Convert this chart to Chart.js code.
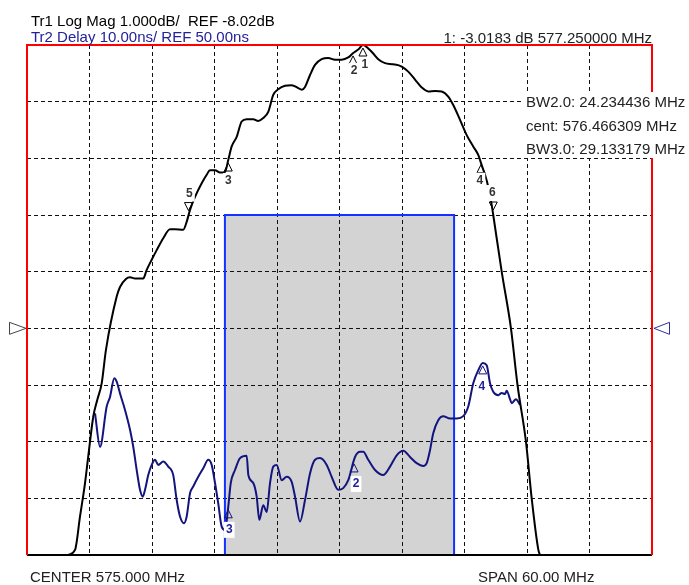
<!DOCTYPE html>
<html>
<head>
<meta charset="utf-8">
<title>Filter response</title>
<script src="https://cdn.jsdelivr.net/npm/chart.js@4.4.1/dist/chart.umd.min.js"></script>
<style>
  html, body { margin: 0; padding: 0; background: #fff; }
  canvas { display: block; }
</style>
</head>
<body>
<canvas id="vna" width="689" height="585"></canvas>
<script>
// Tr1: log magnitude (dB) vs frequency (MHz)
const magFreq = [548.94, 549.61, 550.09, 550.57, 550.88, 551.36, 551.75, 552.17, 552.58, 553.61,
    553.93, 554.50, 554.89, 555.37, 556.16, 556.49, 556.97, 557.45, 558.08, 558.73,
    559.21, 560.00, 560.33, 560.65, 561.13, 561.77, 562.25, 562.57, 563.05, 563.53,
    564.01, 564.32, 564.65, 565.13, 565.61, 566.09, 566.72, 567.20, 567.68, 568.16,
    568.64, 569.12, 569.77, 570.41, 571.04, 571.37, 571.69, 572.17, 572.65, 573.29,
    573.92, 574.57, 575.21, 575.84, 576.32, 576.80, 577.25, 577.76, 578.24, 578.72,
    579.37, 580.16, 580.97, 581.60, 582.25, 582.89, 583.52, 584.17, 584.81, 585.44,
    585.92, 586.57, 587.21, 587.84, 588.32, 588.65, 588.97, 589.28, 589.61, 589.76,
    590.57, 591.46, 592.09, 592.90, 593.45, 594.09, 594.25];
const magDb = [-12.02, -11.93, -11.34, -10.75, -10.28, -9.58, -9.28, -8.99, -8.40, -7.46,
    -7.29, -7.15, -7.12, -7.14, -7.14, -6.99, -6.81, -6.64, -6.43, -6.27,
    -6.27, -6.28, -6.14, -5.93, -5.70, -5.46, -5.31, -5.23, -5.23, -5.27,
    -5.26, -5.05, -4.81, -4.64, -4.37, -4.33, -4.33, -4.36, -4.31, -4.20,
    -3.90, -3.80, -3.74, -3.73, -3.78, -3.81, -3.76, -3.55, -3.37, -3.27,
    -3.25, -3.28, -3.28, -3.24, -3.16, -3.10, -3.02, -3.08, -3.17, -3.27,
    -3.34, -3.36, -3.40, -3.49, -3.63, -3.77, -3.84, -3.83, -3.84, -3.93,
    -4.08, -4.34, -4.61, -4.81, -4.96, -5.14, -5.31, -5.52, -5.84, -6.02,
    -7.02, -8.02, -9.02, -10.02, -11.02, -11.93, -12.02];

// Tr2: group delay (ns)
const delayFreq = [551.53, 552.01, 552.65, 552.97, 553.38, 553.61, 553.93, 554.41, 554.89, 555.20,
    555.53, 555.85, 556.11, 556.33, 556.64, 556.97, 557.29, 557.60, 558.08, 558.56,
    559.04, 559.37, 559.69, 560.07, 560.33, 560.65, 560.96, 561.44, 561.92, 562.40,
    562.73, 563.05, 563.36, 563.69, 564.01, 564.32, 564.56, 564.97, 565.45, 566.09,
    566.25, 566.72, 567.05, 567.30, 567.68, 568.01, 568.33, 568.64, 568.97, 569.45,
    569.93, 570.41, 570.73, 571.21, 571.69, 572.17, 572.65, 573.13, 573.77, 574.25,
    574.88, 575.36, 575.84, 576.49, 576.97, 577.28, 577.76, 578.41, 579.20, 579.85,
    580.49, 581.12, 581.77, 582.41, 583.04, 583.37, 583.69, 584.00, 584.48, 584.96,
    585.61, 586.25, 586.88, 587.36, 587.84, 588.32, 588.75, 589.13, 589.45, 589.76,
    590.24, 590.57, 590.89, 591.05, 591.37, 591.53, 591.94, 592.33];
const delayNs = [35.0, 29.1, 36.2, 37.9, 41.2, 40.6, 38.5, 35.6, 32.1, 29.1,
    25.0, 21.5, 20.3, 21.5, 24.1, 25.9, 26.8, 25.9, 26.5, 25.6,
    24.1, 19.7, 16.8, 15.6, 16.8, 20.9, 22.1, 23.8, 25.3, 26.8,
    25.9, 22.7, 19.1, 15.0, 14.4, 18.5, 22.7, 25.0, 27.1, 27.5,
    24.1, 22.7, 20.3, 16.2, 18.8, 17.6, 22.7, 25.6, 25.9, 23.2,
    23.8, 22.9, 20.3, 15.9, 19.7, 24.4, 26.8, 27.1, 25.9, 23.8,
    21.5, 21.8, 23.2, 27.3, 28.2, 28.2, 26.8, 25.0, 24.1, 25.6,
    27.6, 28.4, 27.3, 26.2, 25.7, 26.2, 28.5, 31.5, 33.8, 34.5,
    34.1, 34.1, 34.5, 36.2, 40.3, 42.6, 43.9, 43.5, 40.3, 38.8,
    38.2, 38.6, 38.4, 39.0, 37.5, 36.8, 37.5, 36.5];

// limit box
const maskFreq = [564, 564, 586, 586];
const maskDb = [-12.02, -6.02, -6.02, -12.02];

// markers
const magMarkerLabels = ['1', '2', '3', '4', '5', '6'];
const magMarkerFreq = [577.25, 576.3, 564.32, 588.58, 560.5, 589.76];
const magMarkerDb = [-3.02, -3.16, -5.05, -5.08, -6.03, -6.02];
const delayMarkerLabels = ['2', '3', '4'];
const delayMarkerFreq = [576.4, 564.32, 588.75];
const delayMarkerNs = [26.6, 18.5, 43.9];

// instrument settings
const centerMHz = 575, spanMHz = 60, freqStep = 6;
const magRef = -8.02, magPerDiv = 1;
const delayRef = 50, delayPerDiv = 10;
const refDiv = 5, divisions = 9;

const headerLines = ['Tr1 Log Mag 1.000dB/  REF -8.02dB', 'Tr2 Delay 10.00ns/ REF 50.00ns'];
const markerReadout = '1: -3.0183 dB 577.250000 MHz';
const bwLines = ['BW2.0: 24.234436 MHz', 'cent: 576.466309 MHz', 'BW3.0: 29.133179 MHz'];
const footerLeft = 'CENTER 575.000 MHz';
const footerRight = 'SPAN 60.00 MHz';

const FONT = '15px "Liberation Sans", Arial, sans-serif';
const NAVY = '#14147f';

function xy(xsArr, ysArr) {
    return xsArr.map((v, i) => ({ x: v, y: ysArr[i] }));
}

function tri(ctx, x, y, up, color) {
    const w = 4, h = 8;
    ctx.beginPath();
    ctx.moveTo(x, y);
    ctx.lineTo(x - w, up ? y + h : y - h);
    ctx.lineTo(x + w, up ? y + h : y - h);
    ctx.closePath();
    ctx.strokeStyle = color;
    ctx.lineWidth = 1;
    ctx.stroke();
}

function label(ctx, text, x, y, color) {
    const w = ctx.measureText(text).width;
    ctx.fillStyle = '#fff';
    ctx.fillRect(x - w / 2 - 2, y - 8, w + 4, 16);
    ctx.fillStyle = color;
    ctx.fillText(text, x, y);
}

// label offsets for the marker numbers
const magLabelOffset = [[2, 20], [1, 18], [0, 21], [-1, 19], [1, -22], [-1, -22]];
const delayLabelOffset = [[2, 23], [1, 23], [-1, 24]];

const decor = {
    id: 'vnaDecor',
    afterDraw(chart) {
        const { ctx, chartArea: a } = chart;
        const xs = chart.scales.x, ys = chart.scales.y, ys2 = chart.scales.y2;
        ctx.save();

        // frame: red on three sides, black along the bottom
        ctx.strokeStyle = '#ff0000';
        ctx.lineWidth = 2;
        ctx.beginPath();
        ctx.moveTo(a.left, a.bottom);
        ctx.lineTo(a.left, a.top);
        ctx.lineTo(a.right, a.top);
        ctx.lineTo(a.right, a.bottom);
        ctx.stroke();
        ctx.strokeStyle = '#000';
        ctx.beginPath();
        ctx.moveTo(a.left + 1, a.bottom);
        ctx.lineTo(a.right - 1, a.bottom);
        ctx.stroke();

        // reference position arrows
        const ry = ys.getPixelForValue(magRef);
        ctx.lineWidth = 1;
        ctx.strokeStyle = '#444';
        ctx.beginPath();
        ctx.moveTo(9.5, ry - 6); ctx.lineTo(9.5, ry + 6); ctx.lineTo(a.left - 1, ry); ctx.closePath();
        ctx.stroke();
        const ry2 = ys2.getPixelForValue(delayRef);
        ctx.strokeStyle = '#3030a0';
        ctx.beginPath();
        ctx.moveTo(669.5, ry2 - 6); ctx.lineTo(669.5, ry2 + 6); ctx.lineTo(a.right + 2, ry2); ctx.closePath();
        ctx.stroke();

        // markers
        ctx.font = 'bold 12px "Liberation Sans", Arial, sans-serif';
        ctx.textAlign = 'center';
        ctx.textBaseline = 'middle';
        magMarkerFreq.forEach((f, i) => {
            const px = xs.getPixelForValue(f), py = ys.getPixelForValue(magMarkerDb[i]);
            const up = magLabelOffset[i][1] > 0;
            tri(ctx, px, up ? py + 3 : py - 5, up, '#000');
            label(ctx, magMarkerLabels[i], px + magLabelOffset[i][0], py + magLabelOffset[i][1], '#333');
        });
        delayMarkerFreq.forEach((f, i) => {
            const px = xs.getPixelForValue(f), py = ys2.getPixelForValue(delayMarkerNs[i]);
            tri(ctx, px, py + 3, true, NAVY);
            label(ctx, delayMarkerLabels[i], px + delayLabelOffset[i][0], py + delayLabelOffset[i][1], '#22229a');
        });

        // annotations
        ctx.font = FONT;
        ctx.textBaseline = 'alphabetic';
        ctx.textAlign = 'left';
        ctx.fillStyle = '#000';
        ctx.fillText(headerLines[0], 31, 26);
        ctx.fillStyle = '#fff';
        ctx.fillRect(28, 29, 240, 15);
        ctx.fillStyle = '#22229a';
        ctx.fillText(headerLines[1], 31, 42);

        ctx.textAlign = 'right';
        ctx.fillStyle = '#222';
        ctx.fillText(markerReadout, a.right, 43);

        ctx.textAlign = 'left';
        ctx.fillStyle = '#fff';
        ctx.fillRect(523, 92, 166, 66);
        ctx.fillStyle = '#222';
        bwLines.forEach((t, i) => ctx.fillText(t, 526, 107 + i * 23.5));

        ctx.fillText(footerLeft, 30, 582);
        ctx.fillText(footerRight, 478, 582);
        ctx.restore();
    }
};

const magMax = magRef + refDiv * magPerDiv;
const delayMax = delayRef + refDiv * delayPerDiv;

new Chart(document.getElementById('vna'), {
    type: 'line',
    data: {
        datasets: [
            {
                label: 'Tr1',
                data: xy(magFreq, magDb),
                yAxisID: 'y',
                borderColor: '#000',
                borderWidth: 2,
                pointRadius: 0,
                fill: false,
                cubicInterpolationMode: 'monotone',
                order: 1
            },
            {
                label: 'Tr2',
                data: xy(delayFreq, delayNs),
                yAxisID: 'y2',
                borderColor: NAVY,
                borderWidth: 2,
                pointRadius: 0,
                fill: false,
                cubicInterpolationMode: 'monotone',
                order: 2
            },
            {
                label: 'mask',
                data: xy(maskFreq, maskDb),
                yAxisID: 'y',
                borderColor: '#1232ff',
                borderWidth: 2,
                backgroundColor: '#d3d3d3',
                pointRadius: 0,
                fill: 'start',
                tension: 0,
                order: 3
            }
        ]
    },
    options: {
        responsive: false,
        animation: false,
        devicePixelRatio: 1,
        layout: { padding: { left: 27, right: 37, top: 45, bottom: 30 } },
        plugins: {
            legend: { display: false },
            tooltip: { enabled: false },
            filler: { drawTime: 'beforeDraw' }
        },
        scales: {
            x: {
                type: 'linear',
                min: centerMHz - spanMHz / 2,
                max: centerMHz + spanMHz / 2,
                ticks: { display: false, stepSize: freqStep },
                grid: { color: '#111', lineWidth: 1, drawTicks: false },
                border: { display: false, dash: [4, 3] }
            },
            y: {
                display: false,
                min: magMax - divisions * magPerDiv,
                max: magMax
            },
            y2: {
                position: 'left',
                min: delayMax - divisions * delayPerDiv,
                max: delayMax,
                ticks: { display: false, stepSize: delayPerDiv },
                grid: { color: '#111', lineWidth: 1, drawTicks: false },
                border: { display: false, dash: [4, 3] }
            }
        }
    },
    plugins: [decor]
});
</script>
</body>
</html>
